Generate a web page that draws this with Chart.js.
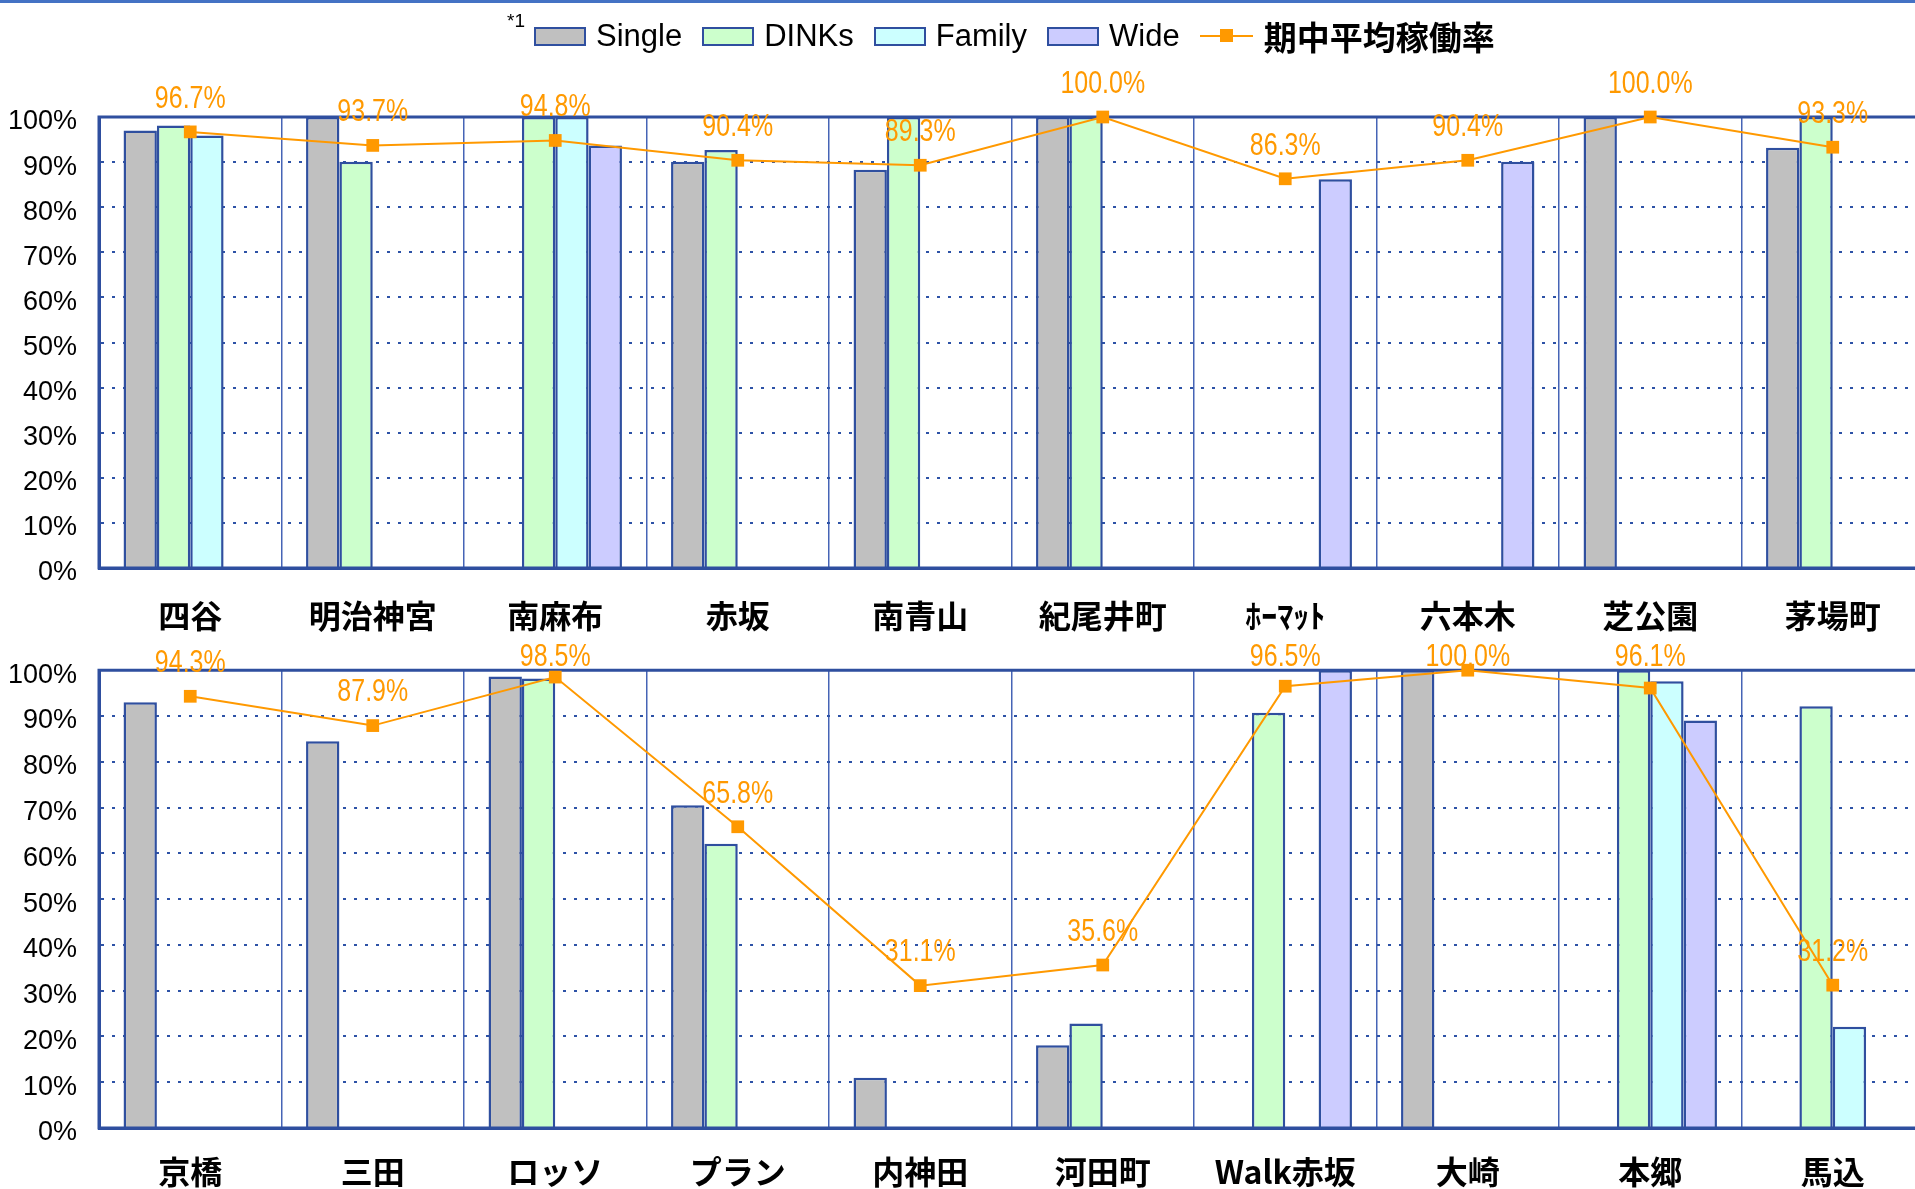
<!DOCTYPE html>
<html>
<head>
<meta charset="utf-8">
<script src="https://cdn.jsdelivr.net/npm/chart.js@4.4.1/dist/chart.umd.min.js"></script>
<style>
  body { margin: 0; background: #fff; overflow: hidden; width: 1915px; height: 1189px; position: relative; }
  #topRule { position: absolute; left: 0; top: 0; width: 1915px; height: 3px; background: #4472c4; }
  #legend { position: absolute; left: 507px; top: 11px; height: 50px; display: flex; align-items: center;
            font-family: 'Liberation Sans', Arial, sans-serif; font-size: 31px; color: #000; white-space: nowrap; }
  #legend .note { font-size: 19px; align-self: flex-start; margin-top: -1px; margin-right: 9px; }
  #legend .item { display: flex; align-items: center; margin-right: 20px; }
  #legend .box { box-sizing: border-box; width: 52px; height: 19px; border: 2px solid #2f4f9f; margin-right: 10px; }
  #legend .lineKey { position: relative; width: 53px; height: 2px; background: #ff9900; margin-right: 11px; }
  #legend .lineKey i { position: absolute; left: 20px; top: -6px; width: 13px; height: 13px; background: #ff9900; }
  #legend .rate { font-family: 'Noto Sans CJK JP', sans-serif; font-weight: bold; font-size: 33px; }
  canvas { position: absolute; left: 0; }
  #topChart { top: 0; }
  #bottomChart { top: 632px; }
</style>
</head>
<body>
<div id="topRule"></div>
<canvas id="topChart" width="1933" height="632"></canvas>
<canvas id="bottomChart" width="1933" height="557"></canvas>
<div id="legend"></div>
<script>
  // series and categories
  const seriesNames = ['Single', 'DINKs', 'Family', 'Wide'];
  const rateName = '期中平均稼働率';

  const topLabels  = ['四谷', '明治神宮', '南麻布', '赤坂', '南青山', '紀尾井町', 'ﾎｰﾏｯﾄ', '六本木', '芝公園', '茅場町'];
  const topSingle  = [97.0, 100, null, 90.1, 88.3, 100, null, null, 100, 93.2];
  const topDinks   = [98.1, 90.1, 100, 92.7, 100, 100, null, null, null, 100];
  const topFamily  = [95.9, null, 100, null, null, null, null, null, null, null];
  const topWide    = [null, null, 93.7, null, null, null, 86.2, 90.1, null, null];
  const topRate    = [96.7, 93.7, 94.8, 90.4, 89.3, 100.0, 86.3, 90.4, 100.0, 93.3];

  const bottomLabels = ['京橋', '三田', 'ロッソ', 'プラン', '内神田', '河田町', 'Walk赤坂', '大崎', '本郷', '馬込'];
  const bottomSingle = [93.0, 84.5, 98.6, 70.5, 11.0, 18.1, null, 100, null, null];
  const bottomDinks  = [null, null, 98.2, 62.1, null, 22.8, 90.7, null, 100, 92.1];
  const bottomFamily = [null, null, null, null, null, null, null, null, 97.6, 22.1];
  const bottomWide   = [null, null, null, null, null, null, 100, null, 89.0, null];
  const bottomRate   = [94.3, 87.9, 98.5, 65.8, 31.1, 35.6, 96.5, 100.0, 96.1, 31.2];

  const yTicks = [0, 10, 20, 30, 40, 50, 60, 70, 80, 90, 100];

  // styles
  const barColors = ['#c0c0c0', '#ccffcc', '#ccffff', '#ccccff'];
  const edgeColor = '#2f4f9f';
  const rateColor = '#ff9900';
  const textFont = '"Liberation Sans", Arial, sans-serif';

  function buildLegend() {
    let html = '<span class="note">*1</span>';
    seriesNames.forEach((name, i) => {
      html += '<span class="item"><span class="box" style="background:' + barColors[i] + '"></span>' + name + '</span>';
    });
    html += '<span class="item rate"><span class="lineKey"><i></i></span>' + rateName + '</span>';
    document.getElementById('legend').innerHTML = html;
  }

  // solid frame on top/left/bottom of the plot, drawn after the bars but under the rate line
  const framePlugin = {
    id: 'frame',
    beforeDatasetDraw(chart, args) {
      if (args.meta.type !== 'line') return;
      let a = chart.chartArea;
      let ctx = chart.ctx;
      ctx.save();
      ctx.strokeStyle = edgeColor;
      ctx.lineWidth = 3;
      ctx.beginPath();
      ctx.moveTo(chart.width, a.top);
      ctx.lineTo(a.left, a.top);
      ctx.lineTo(a.left, a.bottom);
      ctx.lineTo(chart.width, a.bottom);
      ctx.stroke();
      ctx.restore();
    }
  };

  // percentage text above each point of the rate line (narrowed, kept below a ceiling)
  const rateLabelPlugin = {
    id: 'rateLabels',
    afterDatasetsDraw(chart, args, opts) {
      let ctx = chart.ctx;
      let ceiling = chart.chartArea.top - opts.ceiling;
      chart.data.datasets.forEach((ds, i) => {
        if (ds.type !== 'line') return;
        let meta = chart.getDatasetMeta(i);
        meta.data.forEach((pt, j) => {
          let y = Math.max(pt.y - 33, ceiling);
          ctx.save();
          ctx.translate(pt.x, y);
          ctx.scale(0.78, 1);
          ctx.font = '32px ' + textFont;
          ctx.fillStyle = rateColor;
          ctx.textAlign = 'center';
          ctx.textBaseline = 'middle';
          ctx.fillText(ds.data[j].toFixed(1) + '%', 0, 0);
          ctx.restore();
        });
      });
    }
  };

  function makeChart(canvasId, labels, groups, rate, padTop, axisHeight, labelPad, ceiling) {
    let datasets = groups.map((values, i) => ({
      type: 'bar',
      label: seriesNames[i],
      data: values,
      backgroundColor: barColors[i],
      borderColor: edgeColor,
      borderWidth: 2.5,
      barPercentage: 1,
      categoryPercentage: 0.731,
      order: 1
    }));

    datasets.push({
      type: 'line',
      label: rateName,
      data: rate,
      borderColor: rateColor,
      borderWidth: 2,
      pointStyle: 'rect',
      pointRadius: 9,
      pointBackgroundColor: rateColor,
      pointBorderColor: rateColor,
      pointBorderWidth: 0,
      tension: 0,
      clip: false,
      order: 0
    });

    let ctx = document.getElementById(canvasId).getContext('2d');
    return new Chart(ctx, {
      data: { labels: labels, datasets: datasets },
      options: {
        responsive: false,
        animation: false,
        devicePixelRatio: 1,
        layout: { padding: { top: padTop, right: 0, bottom: 0, left: 0 } },
        plugins: {
          legend: { display: false },
          tooltip: { enabled: false },
          rateLabels: { ceiling: ceiling }
        },
        scales: {
          x: {
            offset: true,
            grid: { offset: true, color: '#4664b6', lineWidth: 1.5, drawTicks: false },
            border: { display: true, color: edgeColor, width: 3 },
            ticks: {
              color: '#000',
              padding: labelPad,
              maxRotation: 0,
              autoSkip: false,
              font: { family: '"Noto Sans CJK JP", sans-serif', size: 32, weight: 'bold' }
            },
            afterFit: (scale) => { scale.height = axisHeight; }
          },
          y: {
            min: yTicks[0],
            max: yTicks[yTicks.length - 1],
            afterBuildTicks: (scale) => { scale.ticks = yTicks.map(v => ({ value: v })); },
            grid: { color: '#2d52a6', lineWidth: 2, drawTicks: false },
            border: { display: true, color: edgeColor, width: 3, dash: [3, 8] },
            ticks: {
              color: '#000',
              padding: 22,
              labelOffset: 5,
              font: { family: textFont, size: 27 },
              callback: (v) => v + '%'
            },
            afterFit: (scale) => { scale.width = 99; }
          }
        }
      },
      plugins: [framePlugin, rateLabelPlugin]
    });
  }

  buildLegend();
  makeChart('topChart', topLabels, [topSingle, topDinks, topFamily, topWide], topRate, 117, 64, 29, 40);
  makeChart('bottomChart', bottomLabels, [bottomSingle, bottomDinks, bottomFamily, bottomWide], bottomRate, 37, 61, 25, 13);
</script>
</body>
</html>
